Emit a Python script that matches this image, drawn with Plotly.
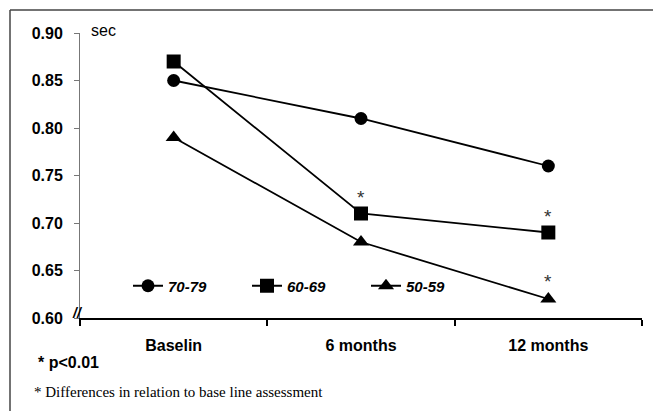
import plotly.graph_objects as go

categories = ["Baselin", "6 months", "12 months"]
series_names = ["70-79", "60-69", "50-59"]
values_70_79 = [0.85, 0.81, 0.76]
values_60_69 = [0.87, 0.71, 0.69]
values_50_59 = [0.79, 0.68, 0.62]
symbols = ["circle", "square", "triangle-up"]
y_ticks = [0.60, 0.65, 0.70, 0.75, 0.80, 0.85, 0.90]
asterisk_x = ["6 months", "12 months", "12 months"]
asterisk_y = [0.727, 0.707, 0.638]

W, H = 653, 411
L, R, T, B = 80, 11, 33, 93
pw, ph = W - L - R, H - T - B

def px(x):
    return (x - L) / pw

def py(y):
    return (H - B - y) / ph

fig = go.Figure()
for name, vals, sym, sz in zip(series_names, [values_70_79, values_60_69, values_50_59], symbols, [13, 14, 14]):
    fig.add_trace(go.Scatter(
        x=categories, y=vals, name=name, mode="lines+markers",
        line=dict(color="black", width=1.8),
        marker=dict(symbol=sym, size=sz, color="black"),
        cliponaxis=False,
    ))

for ax, ay in zip(asterisk_x, asterisk_y):
    fig.add_annotation(x=ax, y=ay, xref="x", yref="y", text="*", showarrow=False,
                       font=dict(family="Liberation Sans", size=19, color="#333"))

fig.add_annotation(x=px(89), y=py(31), xref="paper", yref="paper", text="sec",
                   showarrow=False, xanchor="left", yanchor="middle",
                   font=dict(family="Liberation Sans", size=16, color="black"))
fig.add_annotation(x=px(77), y=py(313), xref="paper", yref="paper", text="<b><i>//</i></b>",
                   showarrow=False, xanchor="center", yanchor="middle",
                   font=dict(family="Liberation Sans", size=14, color="black"))
fig.add_annotation(x=px(36), y=py(362), xref="paper", yref="paper", text="<b>* p<0.01</b>",
                   showarrow=False, xanchor="left", yanchor="middle",
                   font=dict(family="Liberation Sans", size=16, color="black"))
fig.add_annotation(x=px(32), y=py(392), xref="paper", yref="paper",
                   text="* Differences in relation to base line assessment",
                   showarrow=False, xanchor="left", yanchor="middle",
                   font=dict(family="Liberation Serif", size=15, color="black"))

frame_color = "#444444"
fig.add_shape(type="line", xref="paper", yref="paper", x0=px(10), x1=px(660), y0=py(10), y1=py(10),
              line=dict(color=frame_color, width=1.5))
fig.add_shape(type="line", xref="paper", yref="paper", x0=px(10), x1=px(10), y0=py(10), y1=py(430),
              line=dict(color=frame_color, width=1.5))

fig.update_layout(
    width=W, height=H,
    margin=dict(l=L, r=R, t=T, b=B),
    paper_bgcolor="white", plot_bgcolor="white",
    font=dict(family="Liberation Sans", color="black"),
    showlegend=True,
    legend=dict(
        orientation="h", x=px(128), y=py(286), xanchor="left", yanchor="middle",
        bgcolor="rgba(0,0,0,0)", entrywidth=74, entrywidthmode="pixels",
        font=dict(family="Liberation Sans", size=15, color="black", weight="bold", style="italic"),
    ),
    xaxis=dict(
        type="category", range=[-0.5, 2.5], tickson="boundaries",
        showline=True, linecolor="black", linewidth=2,
        ticks="outside", ticklen=6, tickwidth=2, tickcolor="black",
        showgrid=False, zeroline=False, ticklabelstandoff=12,
        tickfont=dict(family="Liberation Sans", size=16, weight="bold", color="black"),
    ),
    yaxis=dict(
        range=[0.60, 0.90], tickvals=y_ticks, tickformat=".2f",
        showline=True, linecolor="#777", linewidth=1,
        ticks="outside", ticklen=5, tickwidth=1, tickcolor="#777",
        showgrid=False, zeroline=False, ticklabelstandoff=8,
        tickfont=dict(family="Liberation Sans", size=16, weight="bold", color="black"),
    ),
)

fig.write_html("out.html")
